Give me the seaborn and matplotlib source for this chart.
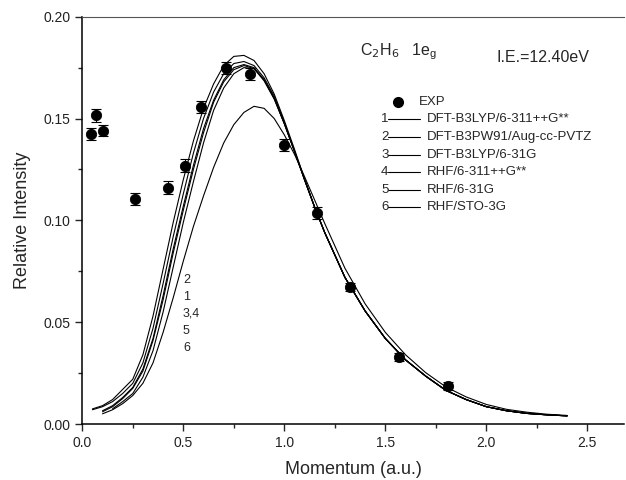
import numpy as np
import pandas as pd
import matplotlib
matplotlib.use('Agg')
import matplotlib.pyplot as plt
from matplotlib.lines import Line2D
from matplotlib.ticker import MultipleLocator
import seaborn as sns

# experimental momentum profile
exp_p = [0.042, 0.068, 0.101, 0.262, 0.423, 0.507, 0.588, 0.711, 0.830, 0.998, 1.160, 1.325, 1.568, 1.812]
exp_i = [0.1424, 0.1515, 0.1441, 0.1106, 0.1161, 0.1269, 0.1558, 0.1748, 0.1720, 0.1371, 0.1035, 0.0672, 0.0331, 0.0188]
exp_err = [0.003, 0.003, 0.0025, 0.003, 0.003, 0.003, 0.003, 0.003, 0.003, 0.003, 0.003, 0.002, 0.002, 0.002]

# theoretical curves
p = [0.05, 0.1, 0.15, 0.2, 0.25, 0.3, 0.35, 0.4, 0.45, 0.5, 0.55, 0.6, 0.65, 0.7, 0.75, 0.8,
     0.85, 0.9, 0.95, 1.0, 1.05, 1.1, 1.15, 1.2, 1.3, 1.4, 1.5, 1.6, 1.7, 1.8, 1.9, 2.0,
     2.1, 2.2, 2.3, 2.4]
nan = np.nan
c1 = [0.0070, 0.0085, 0.0110, 0.0150, 0.0200, 0.0300, 0.0470, 0.0690, 0.0920, 0.1130, 0.1330, 0.1500,
      0.1630, 0.1720, 0.1770, 0.1780, 0.1760, 0.1700, 0.1610, 0.1480, 0.1340, 0.1200, 0.1065, 0.0940,
      0.0720, 0.0555, 0.0420, 0.0315, 0.0235, 0.0165, 0.0120, 0.0085, 0.0065, 0.0052, 0.0045, 0.0040]
c2 = [0.0074, 0.0090, 0.0120, 0.0170, 0.0220, 0.0340, 0.0530, 0.0760, 0.0990, 0.1200, 0.1390, 0.1550,
      0.1670, 0.1760, 0.1805, 0.1810, 0.1785, 0.1720, 0.1620, 0.1490, 0.1350, 0.1205, 0.1065, 0.0940,
      0.0720, 0.0555, 0.0420, 0.0315, 0.0235, 0.0165, 0.0120, 0.0085, 0.0065, 0.0052, 0.0045, 0.0040]
c3 = [nan, 0.0065, 0.0090, 0.0130, 0.0180, 0.0270, 0.0420, 0.0630, 0.0860, 0.1070, 0.1270, 0.1450,
      0.1590, 0.1690, 0.1750, 0.1765, 0.1750, 0.1690, 0.1600, 0.1475, 0.1340, 0.1200, 0.1065, 0.0940,
      0.0720, 0.0555, 0.0420, 0.0315, 0.0235, 0.0165, 0.0120, 0.0085, 0.0065, 0.0052, 0.0045, 0.0040]
c4 = [nan, 0.0060, 0.0085, 0.0125, 0.0175, 0.0260, 0.0410, 0.0610, 0.0840, 0.1050, 0.1250, 0.1430,
      0.1580, 0.1680, 0.1740, 0.1760, 0.1745, 0.1685, 0.1595, 0.1475, 0.1340, 0.1200, 0.1065, 0.0940,
      0.0720, 0.0555, 0.0420, 0.0315, 0.0235, 0.0165, 0.0120, 0.0085, 0.0065, 0.0052, 0.0045, 0.0040]
c5 = [nan, nan, 0.0075, 0.0110, 0.0150, 0.0230, 0.0360, 0.0550, 0.0770, 0.0990, 0.1190, 0.1380,
      0.1540, 0.1650, 0.1720, 0.1750, 0.1745, 0.1690, 0.1600, 0.1475, 0.1340, 0.1200, 0.1065, 0.0940,
      0.0720, 0.0555, 0.0420, 0.0315, 0.0235, 0.0165, 0.0120, 0.0085, 0.0065, 0.0052, 0.0045, 0.0040]
c6 = [nan, 0.0050, 0.0070, 0.0100, 0.0140, 0.0200, 0.0300, 0.0450, 0.0620, 0.0800, 0.0970, 0.1120,
      0.1260, 0.1380, 0.1470, 0.1530, 0.1560, 0.1550, 0.1500, 0.1420, 0.1325, 0.1215, 0.1100, 0.0985,
      0.0765, 0.0590, 0.0450, 0.0340, 0.0252, 0.0182, 0.0133, 0.0096, 0.0072, 0.0058, 0.0048, 0.0042]

methods = ['DFT-B3LYP/6-311++G**', 'DFT-B3PW91/Aug-cc-PVTZ', 'DFT-B3LYP/6-31G',
           'RHF/6-311++G**', 'RHF/6-31G', 'RHF/STO-3G']
curve_tags = ['2', '1', '3,4', '5', '6']

sns.set_style('ticks')
plt.rcParams['font.family'] = ['Liberation Sans', 'DejaVu Sans']

W, H = 626, 480
fig = plt.figure(figsize=(W / 100, H / 100), dpi=100)
ax = fig.add_axes([82.3 / W, 1 - 424 / H, 541.4 / W, (424 - 16.7) / H])

df = pd.DataFrame({'p': p, 'c1': c1, 'c2': c2, 'c3': c3, 'c4': c4, 'c5': c5, 'c6': c6})
for col in ['c1', 'c2', 'c3', 'c4', 'c5', 'c6']:
    d = df[['p', col]].dropna()
    sns.lineplot(x=d['p'], y=d[col], ax=ax, color='black', lw=0.8, sort=False)

ax.errorbar(exp_p, exp_i, yerr=exp_err, fmt='none', ecolor='black', elinewidth=0.8,
            capsize=3.5, capthick=0.8)
sns.scatterplot(x=exp_p, y=exp_i, ax=ax, color='black', s=55, edgecolor='black', zorder=5)

ax.set_xlim(0, 2.68)
ax.set_ylim(0, 0.20)
ax.xaxis.set_major_locator(MultipleLocator(0.5))
ax.xaxis.set_minor_locator(MultipleLocator(0.25))
ax.yaxis.set_major_locator(MultipleLocator(0.05))
ax.yaxis.set_minor_locator(MultipleLocator(0.025))
ax.xaxis.set_major_formatter(matplotlib.ticker.FormatStrFormatter('%.1f'))
ax.yaxis.set_major_formatter(matplotlib.ticker.FormatStrFormatter('%.2f'))
ax.tick_params(which='major', direction='out', length=5, width=1, labelsize=10,
               labelcolor='#222222', top=False, right=False)
ax.tick_params(which='minor', direction='out', length=3, width=1, top=False, right=False)
ax.spines['right'].set_visible(False)
ax.spines['top'].set_color('#555555')
ax.spines['top'].set_linewidth(0.8)
for s in ['left', 'bottom']:
    ax.spines[s].set_linewidth(1.1)
    ax.spines[s].set_color('black')
ax.set_xlabel('Momentum (a.u.)', fontsize=13, labelpad=8)
ax.set_ylabel('Relative Intensity', fontsize=13, labelpad=9)

# annotations
fig.text(360 / W, 1 - 52 / H, r'C$_2$H$_6$   1e$_\mathregular{g}$', fontsize=11.5, va='center')
fig.text(497 / W, 1 - 57 / H, 'I.E.=12.40eV', fontsize=11.5, va='center')

for i, tag in enumerate(curve_tags):
    fig.text(183 / W, 1 - (280 + i * 17) / H, tag, fontsize=9, va='center')

# hand-made legend
fig.add_artist(Line2D([397.7 / W], [1 - 102.3 / H], marker='o', color='black', ms=7,
                      transform=fig.transFigure))
fig.text(419 / W, 1 - 102.3 / H, 'EXP', fontsize=9.5, va='center')
for i, m in enumerate(methods):
    yy = 1 - (119.3 + i * 17.6) / H
    fig.text(381 / W, yy, str(i + 1), fontsize=9.5, va='center')
    fig.add_artist(Line2D([388 / W, 420 / W], [yy, yy], color='black', lw=0.8,
                          transform=fig.transFigure))
    fig.text(426.7 / W, yy, m, fontsize=9.5, va='center')

fig.savefig('out.png', dpi=100)
